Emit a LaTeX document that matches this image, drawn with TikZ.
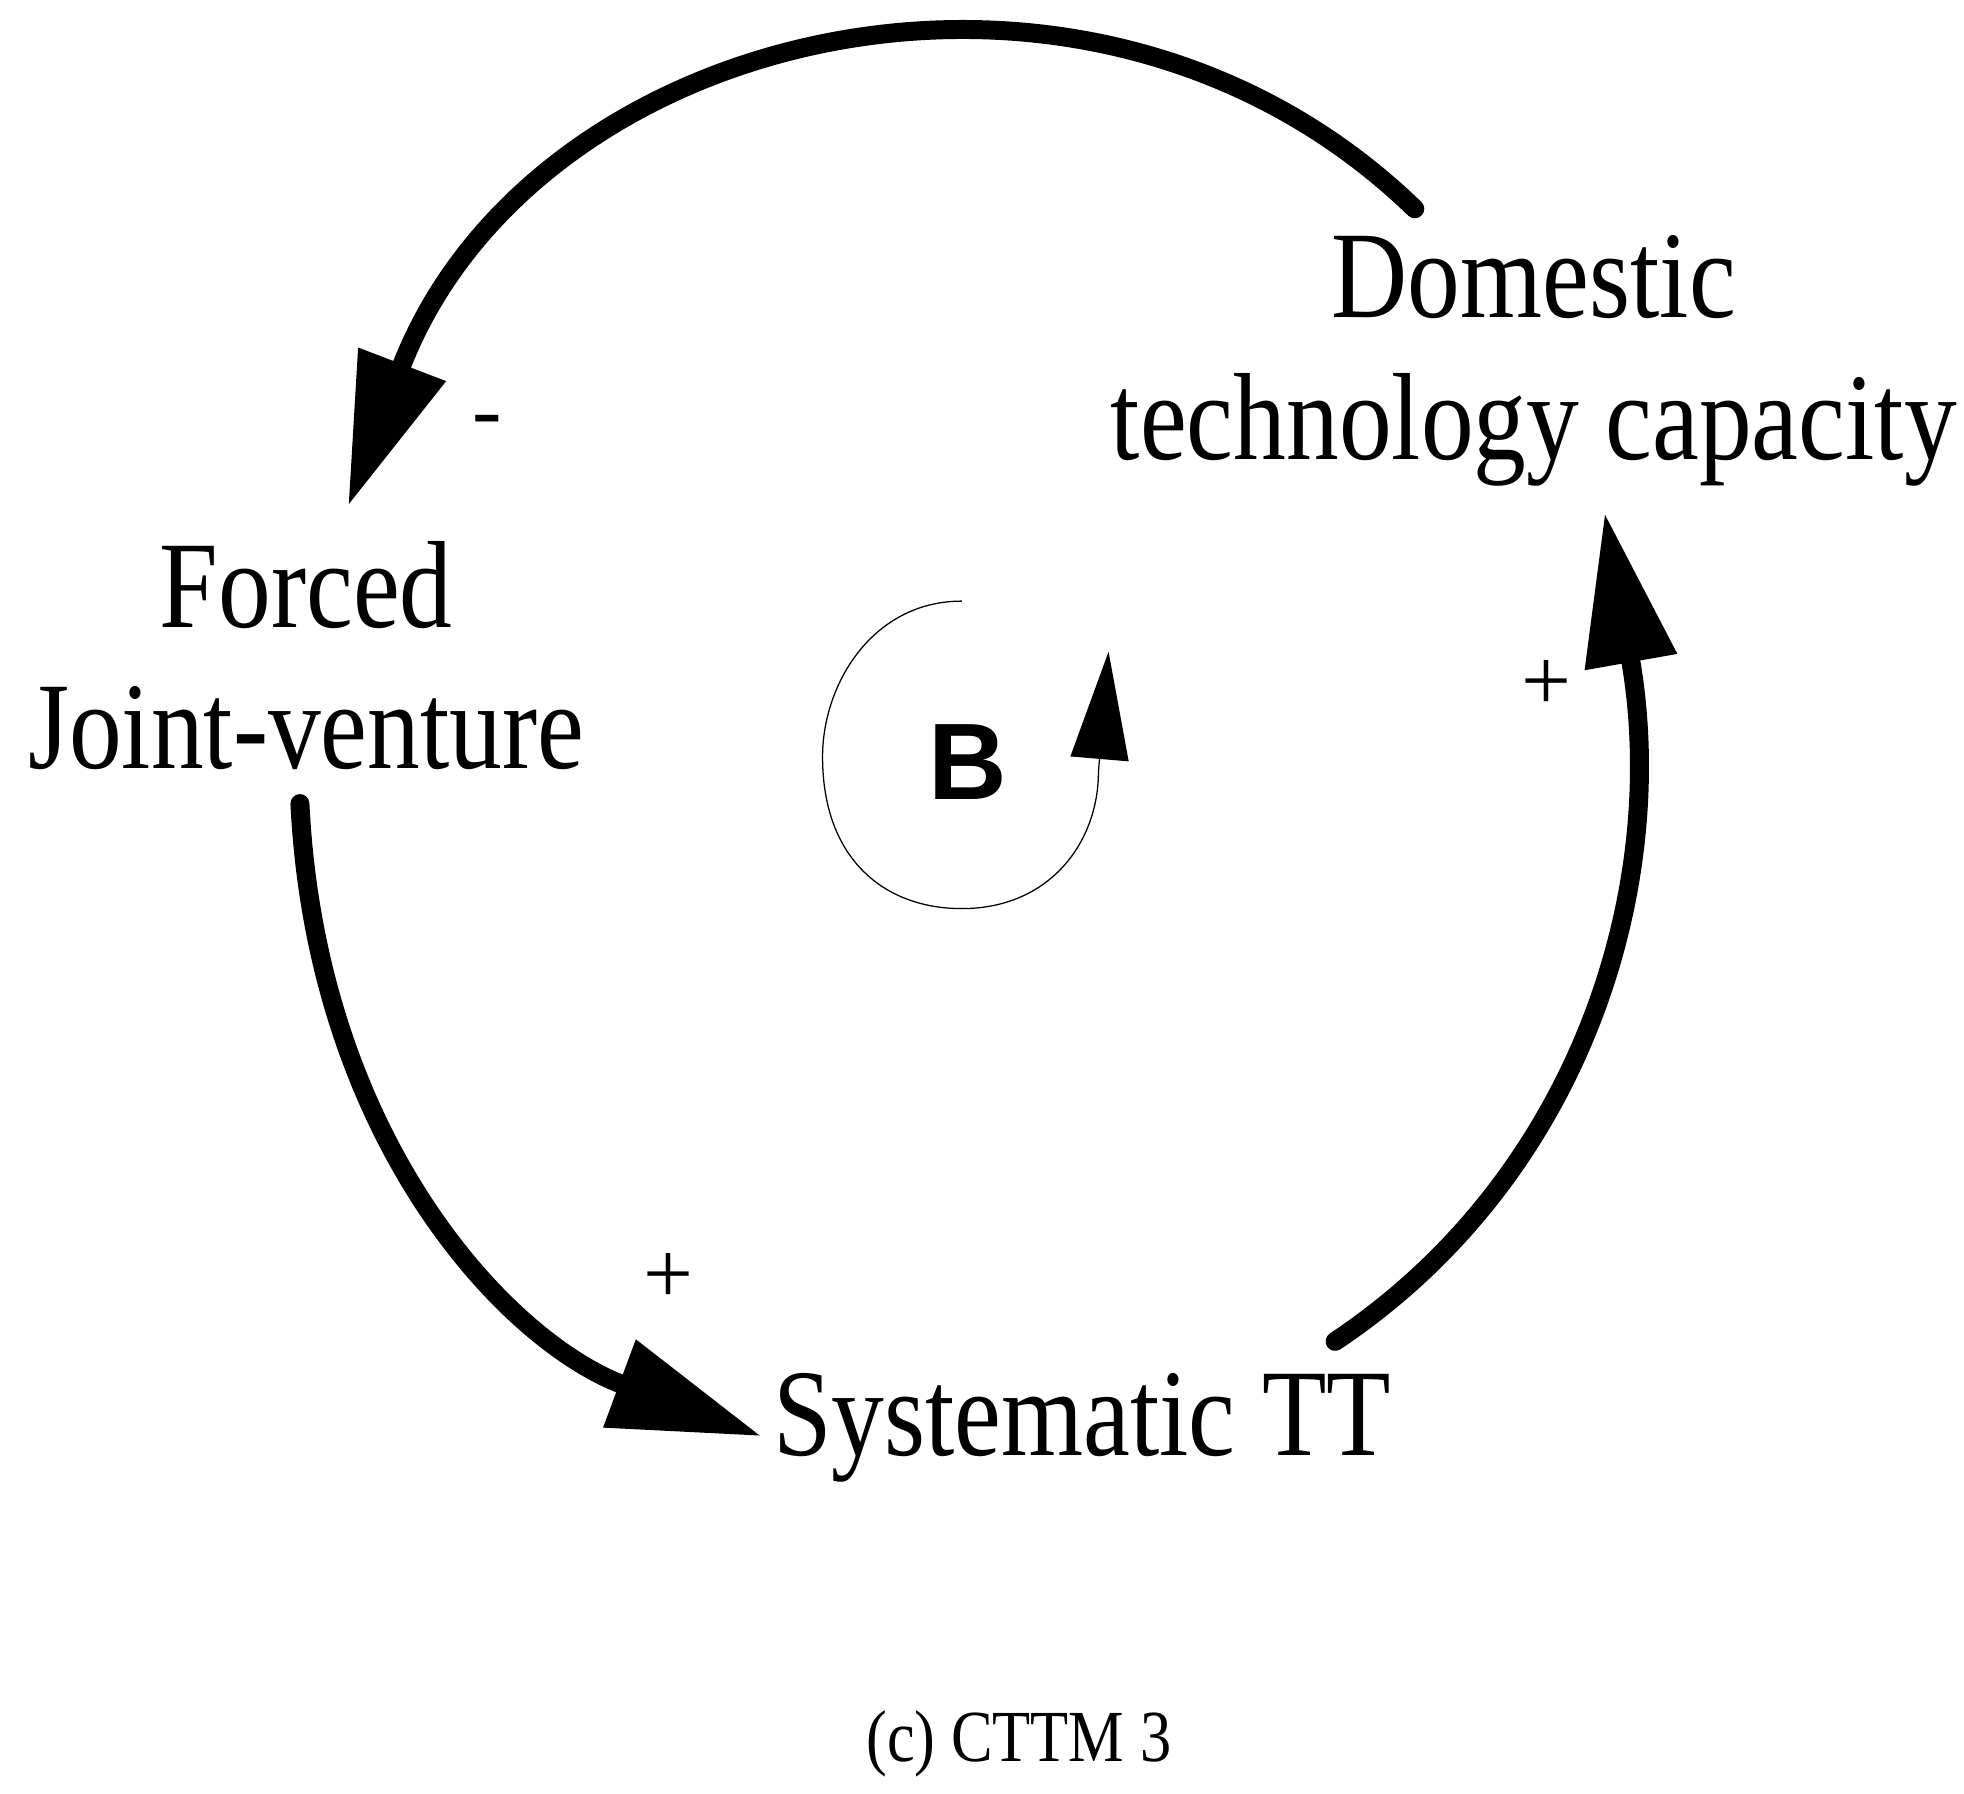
\documentclass[tikz,border=0pt]{standalone}
\usepackage{fontspec}
\setmainfont{Liberation Serif}
\newfontfamily\sans{Liberation Sans}
\usetikzlibrary{arrows.meta}
\newcommand{\cond}[1]{\scalebox{0.85}[1]{#1}}
\begin{document}
\begin{tikzpicture}[x=1pt,y=-1pt,
  lbl/.style={font=\fontsize{98}{112}\selectfont, align=center, inner sep=0},
  sgn/.style={font=\fontsize{70}{80}\selectfont, inner sep=0},
  thick link/.style={line width=15pt, -{Triangle[length=120pt,width=70pt]}},
  thin link/.style={line width=1pt, -{Triangle[length=85pt,width=46pt]}}]
\useasboundingbox (0,0) rectangle (1552,1417);
\node[lbl] (dtc) at (1212,285) {\cond{Domestic}\\\cond{technology capacity}};
\node[lbl] (fjv) at (242,518) {\cond{Forced}\\\cond{Joint-venture}};
\node[lbl] (stt) at (855,1128) {\cond{Systematic TT}};
\node[font=\fontsize{58}{66}\selectfont] (cap) at (805,1378) {\cond{(c) CTTM 3}};
\node[sgn] (m1) at (385,338) {-};
\node[sgn] (p1) at (1222,542) {+};
\node[sgn] (p2) at (528,1010) {+};
\node[font=\sans\bfseries\fontsize{86}{90}\selectfont] (B) at (765,602) {B};
\coordinate (a1s) at (1118,165);
\coordinate (a1e) at (275,400);
\coordinate (a2s) at (237,635);
\coordinate (a2e) at (602,1135);
\coordinate (a3s) at (1055,1060);
\coordinate (a3e) at (1268,405);
\draw[thick link, line cap=round] (a1s) .. controls (860,-85) and (420,20) .. (a1e);
\draw[thick link, line cap=round] (a2s) .. controls (250,900) and (400,1060) .. (a2e);
\draw[thick link, line cap=round] (a3s) .. controls (1250,930) and (1320,700) .. (a3e);
\coordinate (ls) at (760,475);
\coordinate (le) at (876,515);
\draw[thin link] (ls) .. controls (690,475) and (650,540) .. (650,598)
  .. controls (650,680) and (700,718) .. (760,718)
  .. controls (830,718) and (868,665) .. (868,610) -- (le);
\end{tikzpicture}
\end{document}
